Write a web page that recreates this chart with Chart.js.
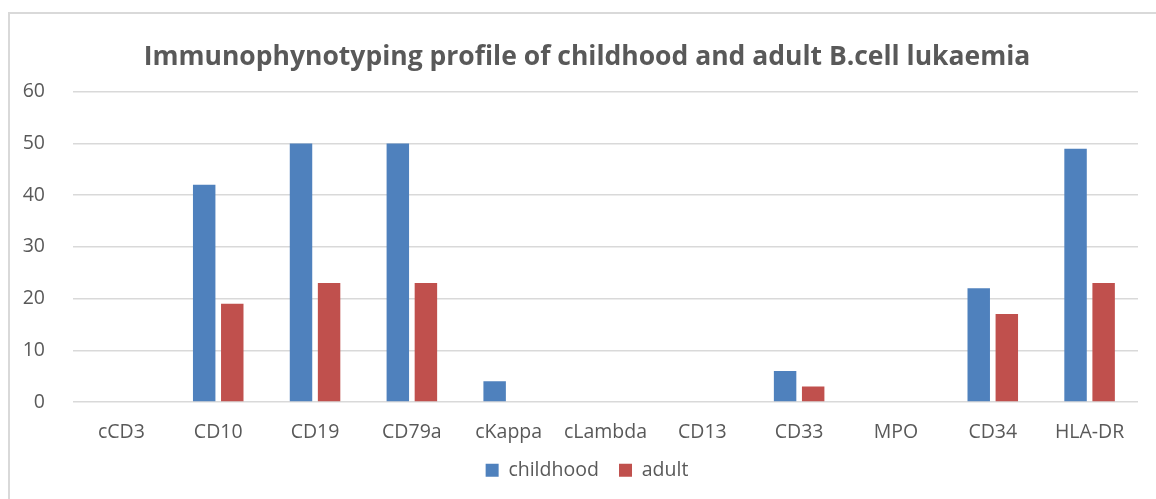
<!DOCTYPE html>
<html>
<head>
<meta charset="utf-8">
<script src="https://cdn.jsdelivr.net/npm/chart.js@4"></script>
<style>
    body { margin: 0; background: #fff; overflow: hidden; }
    #frame { position: absolute; left: 8px; top: 12px; width: 1200px; height: 600px; border: 2px solid #d9d9d9; }
    #box { position: absolute; left: 0; top: 0; width: 1174px; height: 499px; }
</style>
</head>
<body>
<div id="frame"></div>
<div id="box"><canvas id="markerChart"></canvas></div>
<script>
const categories = ["cCD3", "CD10", "CD19", "CD79a", "cKappa", "cLambda", "CD13", "CD33", "MPO", "CD34", "HLA-DR"];
const childhood = [0, 42, 50, 50, 4, 0, 0, 6, 0, 22, 49];
const adult = [0, 19, 23, 23, 0, 0, 0, 3, 0, 17, 23];
const yTicks = [0, 10, 20, 30, 40, 50, 60];

const textColor = "#595959";
const fontName = "'Open Sans', 'Liberation Sans', sans-serif";

const ctx = document.getElementById("markerChart").getContext("2d");
window.currentChart = new Chart(ctx, {
    type: "bar",
    data: {
        labels: categories,
        datasets: [
            {
                label: "childhood",
                data: childhood,
                backgroundColor: "#4F81BD",
                categoryPercentage: 0.58,
                barPercentage: 0.8
            },
            {
                label: "adult",
                data: adult,
                backgroundColor: "#C0504D",
                categoryPercentage: 0.58,
                barPercentage: 0.8
            }
        ]
    },
    options: {
        responsive: true,
        maintainAspectRatio: false,
        animation: false,
        layout: {
            padding: { left: 0, right: 0, top: 0, bottom: 9 }
        },
        plugins: {
            title: {
                display: true,
                text: "Immunophynotyping profile of childhood and adult B.cell lukaemia",
                color: textColor,
                font: { family: fontName, size: 26.5, weight: "bold" },
                padding: { top: 42, bottom: 18 }
            },
            legend: {
                display: true,
                position: "bottom",
                labels: {
                    color: textColor,
                    font: { family: fontName, size: 19.5 },
                    boxWidth: 13,
                    boxHeight: 13,
                    padding: 5,
                    // small padding keeps the legend close to the axis, spaces give the gap between items
                    generateLabels: (chart) => {
                        const items = Chart.defaults.plugins.legend.labels.generateLabels(chart);
                        items.forEach((item, i) => {
                            if (i < items.length - 1) item.text = item.text + "   ";
                        });
                        return items;
                    }
                }
            },
            tooltip: { enabled: false }
        },
        scales: {
            x: {
                grid: { display: false },
                border: { display: false },
                ticks: {
                    color: textColor,
                    font: { family: fontName, size: 19.5, lineHeight: 1 },
                    padding: 13,
                    maxRotation: 0
                }
            },
            y: {
                min: 0,
                max: 60,
                afterFit: (scale) => { scale.width = 73; },
                afterBuildTicks: (scale) => { scale.ticks = yTicks.map(v => ({ value: v })); },
                grid: { color: "#d9d9d9", lineWidth: 1.5, drawTicks: false },
                border: { display: false },
                ticks: {
                    color: textColor,
                    font: { family: fontName, size: 19.5 },
                    padding: 28
                }
            },
            // empty right-hand axis, only keeps the plot clear of the clipped edge
            yRight: {
                position: "right",
                afterFit: (scale) => { scale.width = 36; },
                grid: { display: false },
                border: { display: false },
                ticks: { display: false }
            }
        }
    }
});
</script>
</body>
</html>
